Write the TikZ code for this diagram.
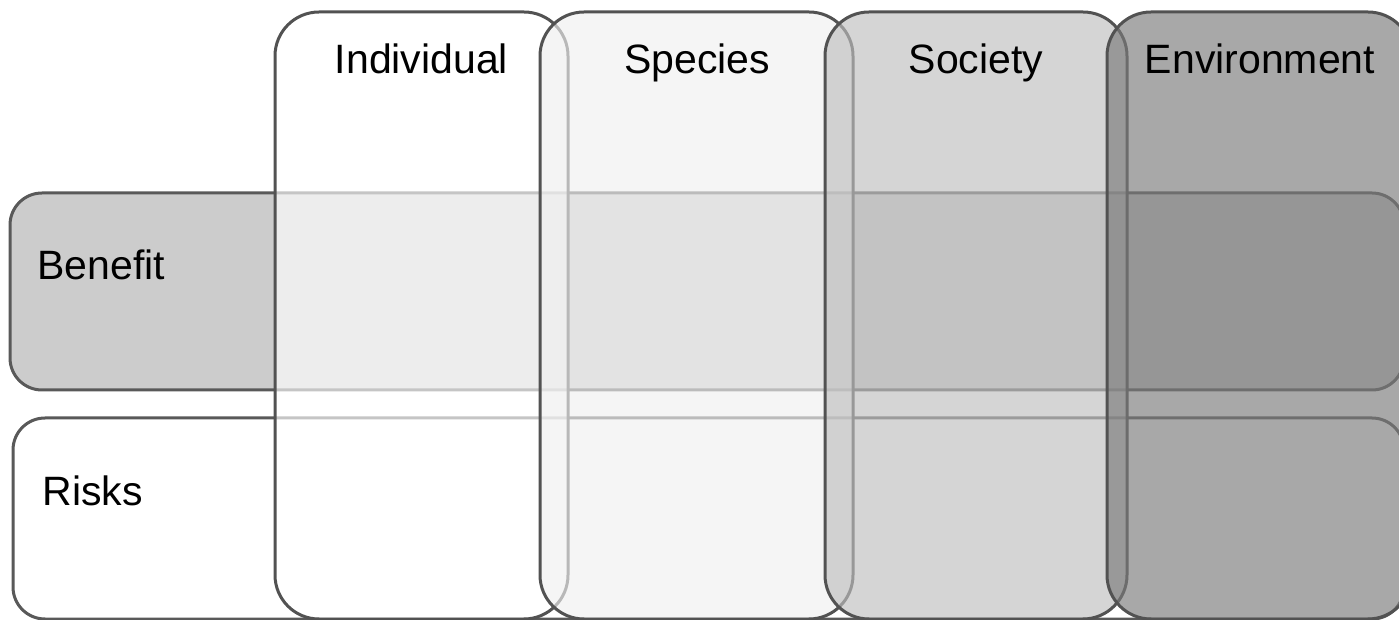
\documentclass[tikz,border=0pt]{standalone}
\usepackage{fontspec}
\setmainfont{Liberation Sans}
\begin{document}
\begin{tikzpicture}[x=0.5pt, y=-0.5pt,
		rowbox/.style={draw=black!65, line width=1.5pt, rounded corners=16pt},
		colbox/.style={draw=black!68, line width=1.5pt, rounded corners=22pt, fill opacity=0.65},
		lbl/.style={font=\fontsize{20.5}{24}\selectfont, inner sep=0pt}]
	\useasboundingbox (0,0) rectangle (1399,620);
	\clip (0,0) rectangle (1399,620);
	% rows
	\draw[rowbox, fill=black!20] (10,193) rectangle (1404,390);
	\draw[rowbox, fill=white] (13,418) rectangle (1404,619);
	% columns
	\draw[colbox, fill=white] (275,12) rectangle (568,619);
	\draw[colbox, fill=black!6] (540,12) rectangle (853,619);
	\draw[colbox, fill=black!25] (825,12) rectangle (1127,619);
	\draw[colbox, fill=black!52] (1107,12) rectangle (1412,619);
	% labels
	\node[lbl, anchor=base] (individual) at (421.5,74) {Individual};
	\node[lbl, anchor=base] (species) at (697,74) {Species};
	\node[lbl, anchor=base] (society) at (976,74) {Society};
	\node[lbl, anchor=base] (environment) at (1260,74) {Environment};
	\node[lbl, anchor=base west] (benefit) at (37,280) {Benefit};
	\node[lbl, anchor=base west] (risks) at (42,505) {Risks};
\end{tikzpicture}
\end{document}
